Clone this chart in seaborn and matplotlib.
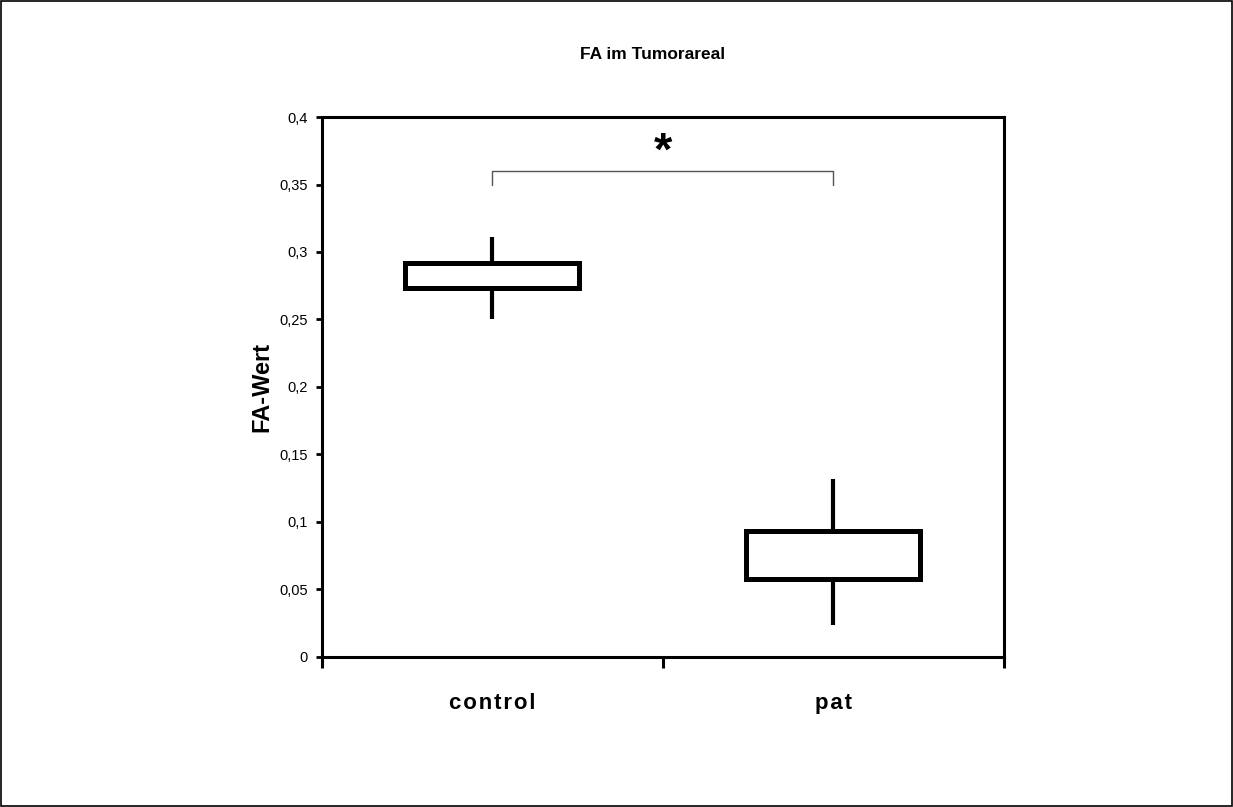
import matplotlib
matplotlib.use("Agg")
from matplotlib import pyplot as plt
from matplotlib.patches import Rectangle
import seaborn as sns
import pandas as pd

# five values per group: min, Q1, median, Q3, max
groups = ["control", "pat"]
control_vals = [0.250, 0.273, 0.282, 0.292, 0.311]
pat_vals = [0.024, 0.058, 0.075, 0.093, 0.132]
y_ticks = [0, 0.05, 0.1, 0.15, 0.2, 0.25, 0.3, 0.35, 0.4]
y_tick_labels = ["0", "0,05", "0,1", "0,15", "0,2", "0,25", "0,3", "0,35", "0,4"]
bracket_y = 0.36

df = pd.DataFrame({
    "group": ["control"] * len(control_vals) + ["pat"] * len(pat_vals),
    "value": control_vals + pat_vals,
})

sns.set_style("white")
plt.rcParams["font.family"] = ["Liberation Sans", "DejaVu Sans"]
plt.rcParams["text.color"] = "black"
plt.rcParams["axes.labelcolor"] = "black"
plt.rcParams["xtick.color"] = "black"
plt.rcParams["ytick.color"] = "black"

fig = plt.figure(figsize=(12.33, 8.07), dpi=100)
ax = fig.add_axes([0.261, 0.186, 0.553, 0.669])

sns.boxplot(data=df, x="group", y="value", order=groups, ax=ax,
            whis=(0, 100), width=0.51, showcaps=False, showfliers=False,
            boxprops={"facecolor": "white", "edgecolor": "black", "linewidth": 3.6},
            whiskerprops={"color": "black", "linewidth": 3.0},
            medianprops={"visible": False})

# significance bracket
ax.plot([0, 0, 1, 1], [bracket_y - 0.01, bracket_y, bracket_y, bracket_y - 0.01],
        color="#555555", linewidth=1.0)
ax.text(0.5, bracket_y - 0.003, "*", ha="center", va="bottom",
        fontsize=34, fontweight="bold")

# letter-spaced category names like the original
spaced = ["\u200a".join(g) for g in groups]

ax.set_xlim(-0.5, 1.5)
ax.set_ylim(0, 0.4)
ax.set_yticks(y_ticks)
ax.set_yticklabels(y_tick_labels, fontsize=10.5)
ax.set_xticks([0, 1])
ax.set_xticklabels(spaced, fontsize=16, fontweight="bold")
ax.set_xticks([-0.5, 0.5, 1.5], minor=True)
ax.tick_params(axis="x", which="major", length=0, pad=26)
ax.tick_params(axis="x", which="minor", length=8, width=2.2, direction="out", bottom=True)
ax.tick_params(axis="y", length=4, width=2, direction="out", left=True, pad=6)
ax.set_xlabel("")
ax.set_ylabel("FA-Wert", fontsize=17, fontweight="bold", labelpad=4)

for sp in ax.spines.values():
    sp.set_visible(True)
    sp.set_color("black")
    sp.set_linewidth(2.2)

fig.text(0.529, 0.932, "FA im Tumorareal", ha="center", va="center",
         fontsize=12.5, fontweight="bold")

# thin border round the whole picture
fig.patches.append(Rectangle((0.001, 0.001), 0.998, 0.998, transform=fig.transFigure,
                             fill=False, edgecolor="black", linewidth=1.2))

fig.savefig("out.png", dpi=100)
